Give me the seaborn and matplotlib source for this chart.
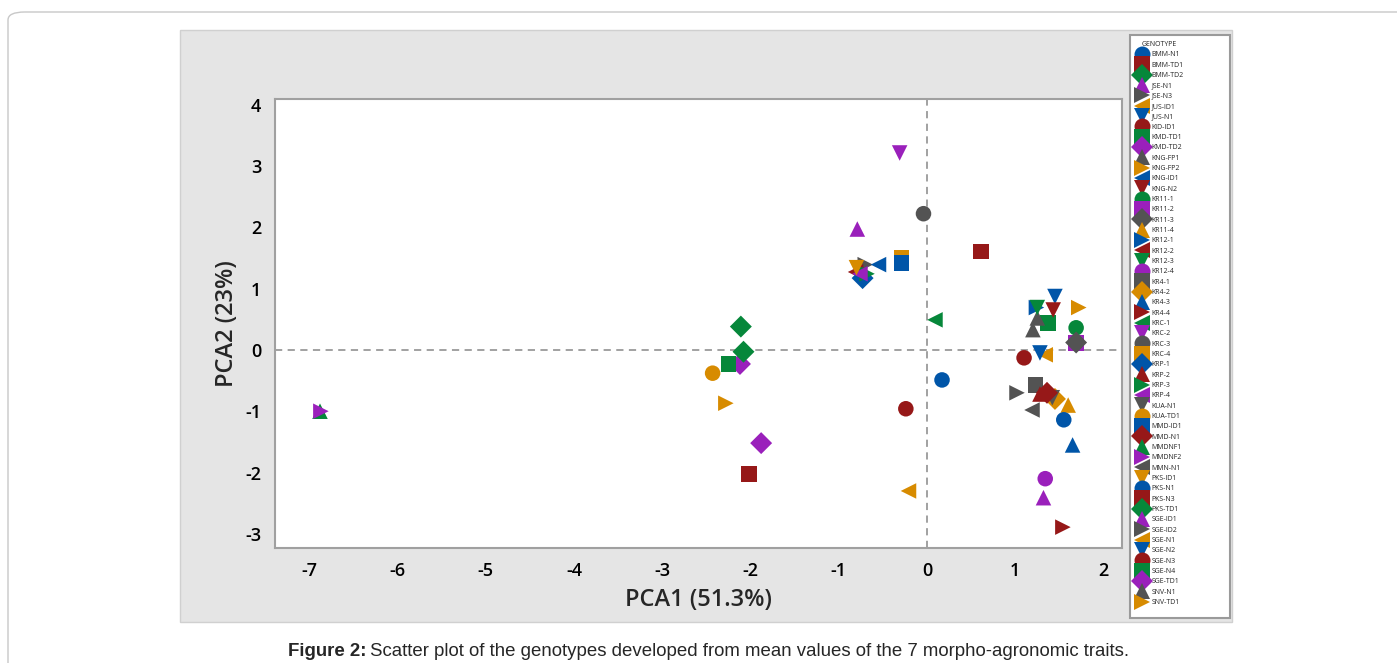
import numpy as np
import pandas as pd
import seaborn as sns
import matplotlib.pyplot as plt
from matplotlib.patches import Rectangle, FancyBboxPatch

# genotypes in legend order
genotypes = ['BMM-N1', 'BMM-TD1', 'BMM-TD2', 'JSE-N1', 'JSE-N3', 'JUS-ID1', 'JUS-N1',
             'KID-ID1', 'KMD-TD1', 'KMD-TD2', 'KNG-FP1', 'KNG-FP2', 'KNG-ID1', 'KNG-N2',
             'KR11-1', 'KR11-2', 'KR11-3', 'KR11-4', 'KR12-1', 'KR12-2', 'KR12-3',
             'KR12-4', 'KR4-1', 'KR4-2', 'KR4-3', 'KR4-4', 'KRC-1', 'KRC-2',
             'KRC-3', 'KRC-4', 'KRP-1', 'KRP-2', 'KRP-3', 'KRP-4', 'KUA-N1',
             'KUA-TD1', 'MMD-ID1', 'MMD-N1', 'MMDNF1', 'MMDNF2', 'MMN-N1', 'PKS-ID1',
             'PKS-N1', 'PKS-N3', 'PKS-TD1', 'SGE-ID1', 'SGE-ID2', 'SGE-N1', 'SGE-N2',
             'SGE-N3', 'SGE-N4', 'SGE-TD1', 'SNV-N1', 'SNV-TD1']

pca1 = [0.17, 0.61, -2.11, -0.79, -0.70, 1.34, 1.45,
        1.10, 1.37, -2.12, 1.25, 1.72, -0.55, 1.43,
        1.69, 1.69, 1.69, 1.60, 1.24, -0.81, 1.25,
        1.34, 1.23, 1.45, 1.65, 1.54, 0.09, -0.31,
        -0.04, -0.29, -0.73, 1.28, -0.68, -0.76, 1.42,
        -2.43, -0.29, 1.36, -6.88, -6.87, 1.19, -0.80,
        1.55, -2.02, -2.08, 1.32, 1.02, -0.21, 1.28,
        -0.24, -2.25, -1.88, 1.20, -2.28]

pca2 = [-0.49, 1.60, 0.38, 1.97, 1.39, -0.08, 0.87,
        -0.13, 0.44, -0.23, 0.52, 0.69, 1.39, 0.65,
        0.36, 0.11, 0.12, -0.90, 0.69, 1.27, 0.69,
        -2.10, -0.57, -0.80, -1.55, -2.89, 0.49, 3.21,
        2.22, 1.50, 1.17, -0.72, 1.24, 1.24, -0.78,
        -0.38, 1.42, -0.70, -1.00, -1.00, -0.98, 1.34,
        -1.14, -2.02, -0.03, -2.41, -0.70, -2.30, -0.05,
        -0.96, -0.23, -1.52, 0.33, -0.87]

color_cycle = ['#0055a8', '#961818', '#06873a', '#9a20bb', '#535353', '#d78b00']
marker_cycle = ['o', 's', 'D', '^', '>', '<', 'v']

df = pd.DataFrame({'GENOTYPE': genotypes, 'PCA1': pca1, 'PCA2': pca2})
palette = {g: color_cycle[i % 6] for i, g in enumerate(genotypes)}
markers = {g: marker_cycle[i % 7] for i, g in enumerate(genotypes)}

sns.set_style('white')
plt.rcParams['font.family'] = ['Open Sans', 'DejaVu Sans']
plt.rcParams['axes.unicode_minus'] = False

fig = plt.figure(figsize=(13.97, 6.63), dpi=100)

# outer rounded frame and grey panel
fig.patches.append(FancyBboxPatch((8 / 1397, -0.1), 1.2, 1.1 - 12 / 663,
                                  boxstyle='round,pad=0,rounding_size=0.012',
                                  transform=fig.transFigure, facecolor='white',
                                  edgecolor='#c8c8c8', linewidth=1, zorder=-3))
fig.patches.append(Rectangle((180 / 1397, 1 - 622 / 663), 1052 / 1397, 592 / 663,
                             transform=fig.transFigure, facecolor='#e5e5e5',
                             edgecolor='#d0d0d0', linewidth=1, zorder=-2))
fig.patches.append(Rectangle((1130 / 1397, 1 - 618 / 663), 100 / 1397, 583 / 663,
                             transform=fig.transFigure, facecolor='white',
                             edgecolor='#9a9a9a', linewidth=1.5, zorder=-1))

ax = fig.add_axes([275 / 1397, 1 - 548 / 663, 847 / 1397, 449 / 663])
sns.scatterplot(data=df, x='PCA1', y='PCA2', hue='GENOTYPE', style='GENOTYPE',
                palette=palette, markers=markers, s=125, linewidth=0,
                legend='full', ax=ax, zorder=3)

ax.axvline(0, color='#9a9a9a', linestyle=(0, (4, 3)), linewidth=1.3, zorder=1)
ax.axhline(0, color='#9a9a9a', linestyle=(0, (4, 3)), linewidth=1.3, zorder=1)

ax.set_xlim(-7.39, 2.21)
ax.set_ylim(-3.23, 4.09)
ax.set_xticks(range(-7, 3))
ax.set_yticks(range(-3, 5))
for sp in ax.spines.values():
    sp.set_color('#a0a0a0')
    sp.set_linewidth(1.5)
ax.tick_params(axis='both', direction='out', length=6, width=1.5, color='#a0a0a0',
               labelsize=13, labelcolor='black', pad=4)
for lab in ax.get_xticklabels() + ax.get_yticklabels():
    lab.set_fontweight('semibold')
ax.set_xlabel('PCA1 (51.3%)', fontsize=17, fontweight='semibold', labelpad=6)
ax.set_ylabel('PCA2 (23%)', fontsize=17, fontweight='semibold', labelpad=4)

sns.move_legend(ax, 'upper left', bbox_to_anchor=(1135 / 1397, 1 - 41 / 663),
                bbox_transform=fig.transFigure, frameon=False, fontsize=5,
                title='GENOTYPE', title_fontsize=5, labelspacing=0.48,
                handlelength=2.0, handletextpad=0.4, borderpad=0,
                borderaxespad=0)
leg = ax.get_legend()
for h in leg.legend_handles:
    h.set_markersize(11.5)

fig.text(366 / 1397, 1 - 652 / 663, 'Figure 2:', ha='right', va='center',
         fontsize=13.4, fontweight='bold', family=['Liberation Sans', 'DejaVu Sans'])
fig.text(370 / 1397, 1 - 652 / 663,
         'Scatter plot of the genotypes developed from mean values of the 7 morpho-agronomic traits.',
         ha='left', va='center', fontsize=13.4, family=['Liberation Sans', 'DejaVu Sans'])

fig.savefig('out.png', dpi=100)
